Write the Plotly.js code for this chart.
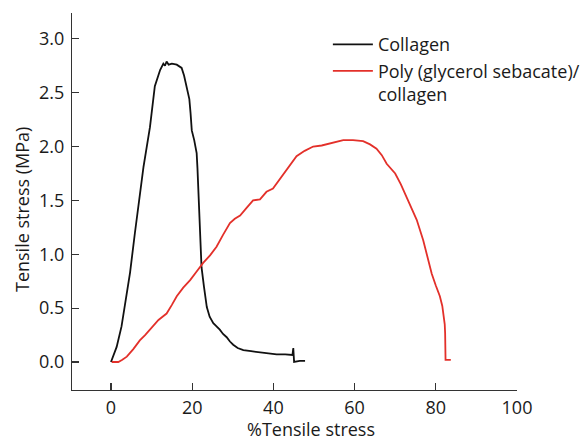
<!DOCTYPE html>
<html>
<head>
<meta charset="utf-8">
<script src="https://cdn.plot.ly/plotly-3.0.1.min.js"></script>
<style>html,body{margin:0;padding:0;background:#fff;}#chart{width:582px;height:442px;}</style>
</head>
<body>
<div id="chart"></div>
<script>
// Collagen curve (strain %, stress MPa)
const collagenX = [0, 0.7, 1.4, 2.6, 3.6, 4.7, 5.9, 7.0, 8.0, 9.6, 10.8, 12.1, 12.9, 13.3, 13.7, 14.2, 15.0, 16.2, 17.4, 18.0, 18.6, 19.3, 19.6, 19.9, 20.5, 21.1, 21.3, 21.5, 21.7, 21.9, 22.1, 22.3, 22.9, 23.6, 24.3, 25.2, 26.0, 26.8, 27.6, 28.5, 29.3, 30.1, 31.2, 32.6, 34.5, 36.7, 38.8, 40.8, 42.9, 44.7, 44.9, 45.0, 45.1, 46.5, 47.8];
const collagenY = [0, 0.07, 0.14, 0.33, 0.58, 0.83, 1.2, 1.5, 1.81, 2.18, 2.56, 2.71, 2.77, 2.75, 2.79, 2.76, 2.77, 2.76, 2.73, 2.66, 2.56, 2.44, 2.31, 2.15, 2.06, 1.94, 1.8, 1.63, 1.42, 1.2, 1.02, 0.88, 0.7, 0.51, 0.42, 0.36, 0.33, 0.3, 0.26, 0.23, 0.19, 0.16, 0.13, 0.11, 0.1, 0.09, 0.085, 0.07, 0.07, 0.065, 0.13, 0.02, 0.0, 0.01, 0.01];
// Poly (glycerol sebacate)/collagen curve
const pgsX = [0.2, 1.0, 1.8, 2.8, 3.9, 5.5, 7.1, 8.4, 9.6, 10.6, 11.7, 12.7, 13.7, 15.0, 16.2, 17.8, 19.5, 21.1, 22.7, 24.4, 26.0, 27.6, 29.3, 30.5, 31.8, 33.4, 35.0, 36.7, 38.3, 39.9, 41.6, 43.3, 45.7, 47.7, 49.8, 51.9, 53.9, 55.5, 57.2, 59.6, 62.1, 63.8, 65.4, 66.7, 67.9, 70.0, 71.4, 72.8, 74.0, 75.3, 76.9, 78.0, 79.0, 80.0, 81.0, 81.6, 81.9, 82.2, 82.3, 82.4, 83.0, 83.7];
const pgsY = [0.0, 0.0, 0.0, 0.02, 0.05, 0.12, 0.2, 0.25, 0.3, 0.34, 0.39, 0.42, 0.45, 0.53, 0.61, 0.69, 0.76, 0.84, 0.92, 0.99, 1.07, 1.18, 1.29, 1.33, 1.36, 1.43, 1.5, 1.51, 1.58, 1.61, 1.7, 1.78, 1.91, 1.96, 2.0, 2.01, 2.03, 2.05, 2.06, 2.06, 2.05, 2.02, 1.98, 1.92, 1.84, 1.75, 1.65, 1.53, 1.43, 1.32, 1.13, 0.98, 0.82, 0.71, 0.61, 0.52, 0.45, 0.35, 0.27, 0.02, 0.02, 0.02];

const seriesNames = ['Collagen', 'Poly (glycerol sebacate)/<br>collagen'];
const xTicks = [0, 20, 40, 60, 80, 100];
const yTicks = [0, 0.5, 1, 1.5, 2, 2.5, 3];
const xTitle = '%Tensile stress';
const yTitle = 'Tensile stress (MPa)';

const FAM = 'Open Sans, Noto Sans, DejaVu Sans, sans-serif';

const traces = [
  {x: collagenX, y: collagenY, name: seriesNames[0], type: 'scatter', mode: 'lines',
   line: {color: '#111111', width: 1.8}},
  {x: pgsX, y: pgsY, name: seriesNames[1], type: 'scatter', mode: 'lines',
   line: {color: '#e3302a', width: 1.8}}
];

const layout = {
  width: 582, height: 442,
  margin: {l: 72, r: 65, t: 13, b: 52, autoexpand: false},
  paper_bgcolor: '#fff', plot_bgcolor: '#fff',
  font: {family: FAM, size: 18, color: '#1a1a1a'},
  showlegend: true,
  legend: {x: 0.575, y: 0.965, xanchor: 'left', yanchor: 'top', valign: 'top',
           itemwidth: 40,
           font: {family: FAM, size: 18, color: '#1a1a1a'},
           bgcolor: 'rgba(255,255,255,0)'},
  xaxis: {
    range: [-9.6, 100], tickvals: xTicks, ticktext: xTicks.map(String),
    ticks: 'inside', ticklen: 7, tickcolor: '#333', tickwidth: 1.2,
    ticklabelstandoff: 1, automargin: false,
    showline: true, linecolor: '#333', linewidth: 1.2,
    showgrid: false, zeroline: false
  },
  yaxis: {
    range: [-0.26, 3.24], tickvals: yTicks, ticktext: yTicks.map(v => v.toFixed(1)),
    ticks: 'inside', ticklen: 7, tickcolor: '#333', tickwidth: 1.2,
    ticklabelstandoff: 3, automargin: false,
    showline: true, linecolor: '#333', linewidth: 1.2,
    showgrid: false, zeroline: false
  },
  annotations: [
    {text: xTitle, xref: 'paper', yref: 'paper', x: 0.536, y: -0.138,
     xanchor: 'center', yanchor: 'bottom', borderpad: 0, showarrow: false,
     font: {family: FAM, size: 18, color: '#1a1a1a'}},
    {text: yTitle, xref: 'paper', yref: 'paper', x: -0.1124, y: 0.48,
     xanchor: 'center', yanchor: 'middle', textangle: -90, borderpad: 0, showarrow: false,
     font: {family: FAM, size: 18, color: '#1a1a1a'}}
  ]
};

Plotly.newPlot('chart', traces, layout, {displayModeBar: false, staticPlot: true});
</script>
</body>
</html>
